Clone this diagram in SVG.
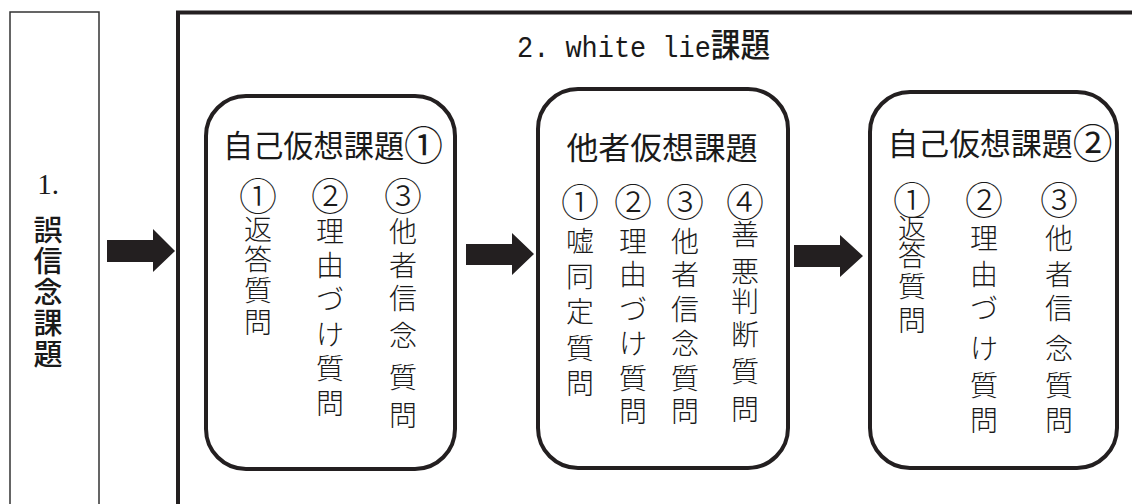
<svg xmlns="http://www.w3.org/2000/svg" width="1132" height="504" viewBox="0 0 1132 504">
<style>
.frame{fill:none;stroke:#231f20;stroke-width:4}
.thin{fill:none;stroke:#333;stroke-width:1.5}
.node{fill:#fff;stroke:#231f20;stroke-width:4}
.arrow{fill:#231f20}
.cjk{font-family:"Noto Sans CJK JP","Noto Sans CJK SC",sans-serif;fill:#1a1a1a}
.ttl{font-size:31px;font-weight:400;text-anchor:middle;dominant-baseline:central}
.col{font-size:28px;font-weight:300;text-anchor:middle;dominant-baseline:central}
.num{font-size:38px}
.lbl{font-size:29px;font-weight:500;text-anchor:middle;dominant-baseline:central}
.big{font-size:40px}
</style>
<rect width="1132" height="504" fill="#fff"/>
<g id="task1">
<path class="thin" d="M10 510 V12 H99 V510"/>
<text x="48" y="194" font-family="Liberation Serif,serif" font-size="29" text-anchor="middle" fill="#1a1a1a">1.</text>
<text class="cjk lbl"><tspan x="48" y="228">誤</tspan><tspan x="48" y="259">信</tspan><tspan x="48" y="290">念</tspan><tspan x="48" y="321">課</tspan><tspan x="48" y="352">題</tspan></text>
</g>
<g id="task2">
<path class="frame" d="M178 510 V12.5 H1140"/>
<text x="517" y="57" fill="#1a1a1a" textLength="253" lengthAdjust="spacingAndGlyphs"><tspan font-family="Liberation Mono,monospace" font-size="30">2. white lie</tspan><tspan class="cjk" font-size="33" font-weight="500">課題</tspan></text>
</g>
<g id="connectors">
<polygon class="arrow" points="107,240 153,240 153,229 175,251 153,272 153,262 107,262"/>
<polygon class="arrow" points="466,244 512,244 512,233 534,254 512,275 512,265 466,265"/>
<polygon class="arrow" points="794,245 840,245 840,235 863,256 840,277 840,267 794,267"/>
</g>
<g id="self1">
<rect class="node" x="206" y="96" width="249" height="373" rx="40"/>
<text class="cjk ttl" x="333" y="143" textLength="220" lengthAdjust="spacingAndGlyphs">自己仮想課題<tspan class="big">①</tspan></text>
<text class="cjk col"><tspan class="num" x="258" y="193">①</tspan><tspan x="258" y="228">返</tspan><tspan x="258" y="258">答</tspan><tspan x="258" y="289">質</tspan><tspan x="258" y="321">問</tspan></text>
<text class="cjk col"><tspan class="num" x="330" y="193">②</tspan><tspan x="330" y="230">理</tspan><tspan x="330" y="264">由</tspan><tspan x="330" y="298">づ</tspan><tspan x="330" y="333">け</tspan><tspan x="330" y="367">質</tspan><tspan x="330" y="402">問</tspan></text>
<text class="cjk col"><tspan class="num" x="403" y="193">③</tspan><tspan x="403" y="230">他</tspan><tspan x="403" y="264">者</tspan><tspan x="403" y="297">信</tspan><tspan x="403" y="334">念</tspan><tspan x="403" y="376">質</tspan><tspan x="403" y="414">問</tspan></text>
</g>
<g id="other">
<rect class="node" x="538" y="89" width="250" height="379" rx="40"/>
<text class="cjk ttl" x="662" y="145" textLength="191" lengthAdjust="spacingAndGlyphs">他者仮想課題</text>
<text class="cjk col"><tspan class="num" x="580" y="199">①</tspan><tspan x="580" y="240">嘘</tspan><tspan x="580" y="275">同</tspan><tspan x="580" y="310">定</tspan><tspan x="580" y="347">質</tspan><tspan x="580" y="382">問</tspan></text>
<text class="cjk col"><tspan class="num" x="633" y="199">②</tspan><tspan x="633" y="240">理</tspan><tspan x="633" y="273">由</tspan><tspan x="633" y="308">づ</tspan><tspan x="633" y="342">け</tspan><tspan x="633" y="377">質</tspan><tspan x="633" y="410">問</tspan></text>
<text class="cjk col"><tspan class="num" x="685" y="199">③</tspan><tspan x="685" y="240">他</tspan><tspan x="685" y="273">者</tspan><tspan x="685" y="308">信</tspan><tspan x="685" y="342">念</tspan><tspan x="685" y="377">質</tspan><tspan x="685" y="410">問</tspan></text>
<text class="cjk col"><tspan class="num" x="745" y="199">④</tspan><tspan x="745" y="233">善</tspan><tspan x="745" y="270">悪</tspan><tspan x="745" y="300">判</tspan><tspan x="745" y="333">断</tspan><tspan x="745" y="370">質</tspan><tspan x="745" y="408">問</tspan></text>
</g>
<g id="self2">
<rect class="node" x="870" y="92" width="247" height="376" rx="40"/>
<text class="cjk ttl" x="1000" y="141" textLength="225" lengthAdjust="spacingAndGlyphs">自己仮想課題<tspan class="big">②</tspan></text>
<text class="cjk col"><tspan class="num" x="912" y="197">①</tspan><tspan x="912" y="227">返</tspan><tspan x="912" y="254">答</tspan><tspan x="912" y="285">質</tspan><tspan x="912" y="319">問</tspan></text>
<text class="cjk col"><tspan class="num" x="984" y="197">②</tspan><tspan x="984" y="237">理</tspan><tspan x="984" y="273">由</tspan><tspan x="984" y="307">づ</tspan><tspan x="984" y="347">け</tspan><tspan x="984" y="384">質</tspan><tspan x="984" y="419">問</tspan></text>
<text class="cjk col"><tspan class="num" x="1059" y="197">③</tspan><tspan x="1059" y="237">他</tspan><tspan x="1059" y="273">者</tspan><tspan x="1059" y="307">信</tspan><tspan x="1059" y="347">念</tspan><tspan x="1059" y="384">質</tspan><tspan x="1059" y="419">問</tspan></text>
</g>
</svg>
